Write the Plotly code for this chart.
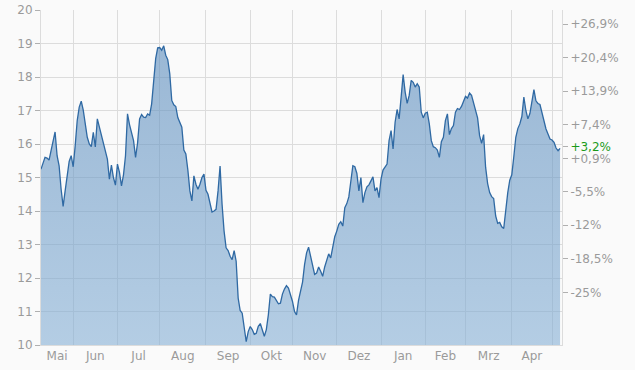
import pandas as pd
import plotly.graph_objects as go

# ---------------- data ----------------
start_date = "2022-05-10"
prices = [
    15.25, 15.4, 15.6, 15.58, 15.52, 15.8, 16.1, 16.36, 15.65, 15.35,
    14.65, 14.14, 14.6, 15.05, 15.48, 15.65, 15.32, 15.95, 16.7, 17.1,
    17.28, 17.01, 16.58, 16.2, 16.0, 15.92, 16.35, 15.91, 16.75, 16.51,
    16.33, 16.1, 15.88, 15.55, 14.95, 15.37, 15.0, 14.77, 15.4, 15.15,
    14.75, 15.08, 15.65, 16.9, 16.58, 16.3, 16.1, 15.6, 16.03, 16.75,
    16.88, 16.8, 16.79, 16.9, 16.86, 17.2, 18.0, 18.55, 18.87, 18.88,
    18.8, 18.93, 18.65, 18.52, 18.1, 17.3, 17.17, 17.12, 16.79, 16.66,
    16.5, 15.82, 15.7, 15.22, 14.6, 14.3, 15.05, 14.8, 14.65, 14.8,
    15.0, 15.1, 14.62, 14.5, 14.2, 13.97, 14.0, 14.05, 14.6, 15.34,
    14.2, 13.4, 12.9, 12.82, 12.65, 12.55, 12.82, 12.5, 11.4, 11.03,
    10.95, 10.55, 10.1, 10.4, 10.55, 10.46, 10.32, 10.35, 10.56, 10.64,
    10.45, 10.26, 10.46, 10.9, 11.52, 11.44, 11.43, 11.32, 11.23, 11.25,
    11.52, 11.67, 11.77, 11.7, 11.5, 11.3, 11.0, 10.9, 11.33, 11.6,
    11.88, 12.4, 12.75, 12.92, 12.62, 12.38, 12.11, 12.15, 12.33, 12.2,
    12.05, 12.33, 12.55, 12.72, 12.6, 12.88, 13.23, 13.4, 13.6, 13.68,
    13.55, 14.1, 14.22, 14.42, 14.9, 15.35, 15.32, 15.12, 14.6, 15.0,
    14.25, 14.55, 14.72, 14.78, 14.9, 15.02, 14.6, 14.7, 14.4, 14.95,
    15.22, 15.3, 15.4, 16.1, 16.4, 15.85, 16.65, 17.03, 16.75, 17.4,
    18.07, 17.55, 17.21, 17.45, 17.9, 17.84, 17.7, 17.8, 17.7, 16.95,
    16.78, 16.92, 16.95, 16.6, 16.1, 15.92, 15.89, 15.82, 15.6, 16.07,
    16.2, 16.7, 16.9, 16.28, 16.46, 16.55, 16.95, 17.06, 17.03, 17.12,
    17.27, 17.42, 17.37, 17.52, 17.45, 17.22, 17.06, 16.78, 16.25, 16.02,
    16.28, 15.3, 14.82, 14.55, 14.43, 14.37, 13.85, 13.63, 13.66, 13.53,
    13.48, 14.07, 14.55, 14.92, 15.08, 15.62, 16.2, 16.46, 16.6, 16.82,
    17.4, 17.0, 16.75, 16.91, 17.3, 17.62, 17.29, 17.21, 17.18, 16.95,
    16.65, 16.45, 16.3, 16.15, 16.12, 16.05, 15.88, 15.8, 15.87,
]
base_price = 15.43
price_ticks = [10, 11, 12, 13, 14, 15, 16, 17, 18, 19, 20]
pct_ticks = [26.9, 20.4, 13.9, 7.4, 0.9, -5.5, -12.0, -18.5, -25.0]
last_change = 3.2
month_names = ["Mai", "Jun", "Jul", "Aug", "Sep", "Okt", "Nov", "Dez",
               "Jan", "Feb", "Mrz", "Apr"]

# ---------------- derived ----------------
dates = pd.bdate_range(start_date, periods=len(prices))
y_lo, y_hi = price_ticks[0], price_ticks[-1]
pct = [(p / base_price - 1) * 100 for p in prices]
pct_range = [(y_lo / base_price - 1) * 100, (y_hi / base_price - 1) * 100]

def fmt_pct(v):
    sign = "+" if v >= 0 else "-"
    s = f"{abs(v):g}".replace(".", ",")
    return f"{sign}{s}%"

y2_vals = pct_ticks + [last_change]
y2_text = [fmt_pct(v) for v in pct_ticks] + [
    f'<span style="color:#1a9a1a">{fmt_pct(last_change)}</span>']

months = pd.period_range(dates[0], periods=len(month_names), freq="M")
label_pos, grid_pos = [], []
for m in months:
    d = dates[(dates >= m.start_time) & (dates <= m.end_time)]
    n = len(d)
    pos = d[n // 2] if n % 2 == 0 else d[n // 2] + pd.Timedelta(hours=12)
    label_pos.append(pos)
for m in pd.period_range(dates[0], dates[-1], freq="M")[1:]:
    d = dates[dates >= m.start_time]
    grid_pos.append(d[0])

x_end = dates[-1] + pd.Timedelta(hours=23)

grid = "#dcdcdc"
txt = "#9a9a9a"

fig = go.Figure()
fig.add_trace(go.Scatter(
    x=dates, y=prices, mode="lines",
    line=dict(color="#2f69a3", width=1.3),
    fill="tozeroy",
    fillgradient=dict(type="vertical",
                      colorscale=[[0, "rgba(133,175,213,0.6)"],
                                  [1, "rgba(85,135,185,0.6)"]],
                      start=y_lo, stop=y_hi),
    hoverinfo="skip", showlegend=False,
))
fig.add_trace(go.Scatter(
    x=dates, y=pct, mode="lines", yaxis="y2",
    line=dict(color="rgba(0,0,0,0)", width=0),
    hoverinfo="skip", showlegend=False,
))

fig.update_layout(
    width=635, height=370,
    margin=dict(l=41, r=73, t=10, b=25, autoexpand=False),
    paper_bgcolor="#fafafa", plot_bgcolor="#fafafa",
    showlegend=False,
    font=dict(family="DejaVu Sans", size=12, color=txt),
    xaxis=dict(
        type="date", range=[dates[0], x_end], automargin=False,
        rangebreaks=[dict(bounds=["sat", "mon"])],
        tickmode="array", tickvals=label_pos, ticktext=month_names,
        showgrid=False, ticks="", zeroline=False,
        minor=dict(tickmode="array", tickvals=grid_pos, showgrid=True,
                   gridcolor=grid, gridwidth=1, ticks=""),
        showline=True, linecolor=grid, linewidth=1,
    ),
    yaxis=dict(
        range=[y_lo, y_hi], tickmode="array", tickvals=price_ticks,
        automargin=False,
        showgrid=True, gridcolor=grid, gridwidth=1, zeroline=False,
        ticks="outside", ticklen=5, tickcolor="#b0b0b0",
        showline=True, linecolor=grid, linewidth=1,
    ),
    yaxis2=dict(
        overlaying="y", side="right", range=pct_range, automargin=False,
        tickmode="array", tickvals=y2_vals, ticktext=y2_text,
        showgrid=False, zeroline=False,
        ticks="outside", ticklen=5, tickcolor="#b0b0b0",
        showline=True, linecolor=grid, linewidth=1,
    ),
)

fig.write_html("out.html")
